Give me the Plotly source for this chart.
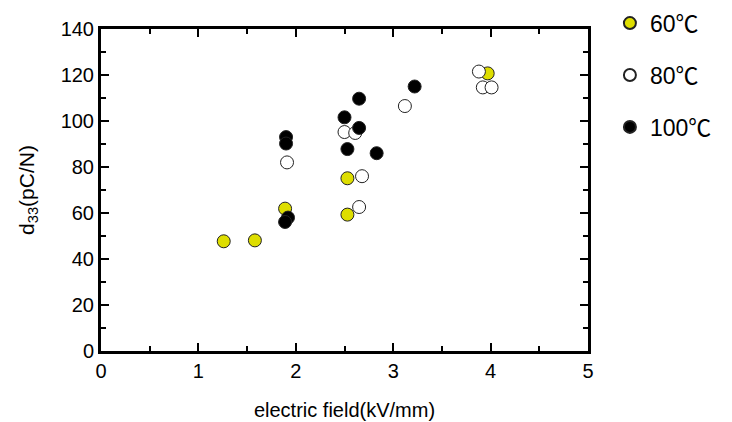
import plotly.graph_objects as go

# Data
x_60 = [1.26, 1.58, 1.89, 2.53, 2.53, 3.97]
y_60 = [47.7, 48.1, 61.9, 75.1, 59.3, 120.7]

x_80 = [1.91, 2.50, 2.61, 2.68, 2.65, 3.12, 3.88, 3.92, 4.01]
y_80 = [82.0, 95.2, 94.8, 76.0, 62.6, 106.5, 121.5, 114.6, 114.6]

x_100 = [1.90, 1.90, 1.92, 1.89, 2.50, 2.65, 2.65, 2.53, 2.83, 3.22]
y_100 = [93.0, 90.2, 58.0, 56.1, 101.6, 97.0, 109.7, 87.8, 86.0, 115.0]

series_names = ["60℃", "80℃", "100℃"]
series_colors = ["#DEDE00", "#FFFFFF", "#000000"]

FONT = "Arial, Liberation Sans, Noto Sans CJK SC, sans-serif"

fig = go.Figure()
for name, xs, ys, col, grp in zip(series_names, [x_60, x_80, x_100], [y_60, y_80, y_100],
                                   series_colors, ["a", "b", "c"]):
    fig.add_trace(go.Scatter(
        x=xs, y=ys, mode="markers", name=name, legendgroup=grp,
        marker=dict(size=13, color=col, line=dict(color="#222222", width=1)),
    ))

axis_common = dict(
    showline=True, linecolor="black", linewidth=3, mirror="ticks",
    ticks="inside", tickwidth=2, tickcolor="black", showgrid=False, zeroline=False,
    tickfont=dict(family=FONT, size=20, color="black"), automargin=False,
)

fig.update_xaxes(
    range=[0, 5], dtick=1, ticklen=8,
    minor=dict(dtick=0.5, ticks="inside", ticklen=5, tickwidth=2, tickcolor="black", showgrid=False),
    title=dict(text="electric field(kV/mm)", font=dict(family=FONT, size=20, color="black"), standoff=22),
    **axis_common,
)
fig.update_yaxes(
    range=[0, 140], dtick=20, ticklen=8,
    minor=dict(dtick=10, ticks="inside", ticklen=5, tickwidth=2, tickcolor="black", showgrid=False),
    title=dict(text="d<sub>33</sub>(pC/N)", font=dict(family=FONT, size=21, color="black"), standoff=21),
    **axis_common,
)

fig.update_layout(
    width=732, height=422,
    margin=dict(l=101, r=144, t=29, b=71, autoexpand=False),
    paper_bgcolor="white", plot_bgcolor="white",
    showlegend=True,
    legend=dict(
        x=1.045, xanchor="left", y=1.085, yanchor="top",
        font=dict(family=FONT, size=23, color="black"),
        traceorder="grouped", tracegroupgap=19,
        bgcolor="rgba(0,0,0,0)", itemsizing="constant",
    ),
)

fig.write_html(
    "out.html",
    config={"displayModeBar": False},
    post_script="document.body.style.margin='0';document.body.style.overflow='hidden';",
)
